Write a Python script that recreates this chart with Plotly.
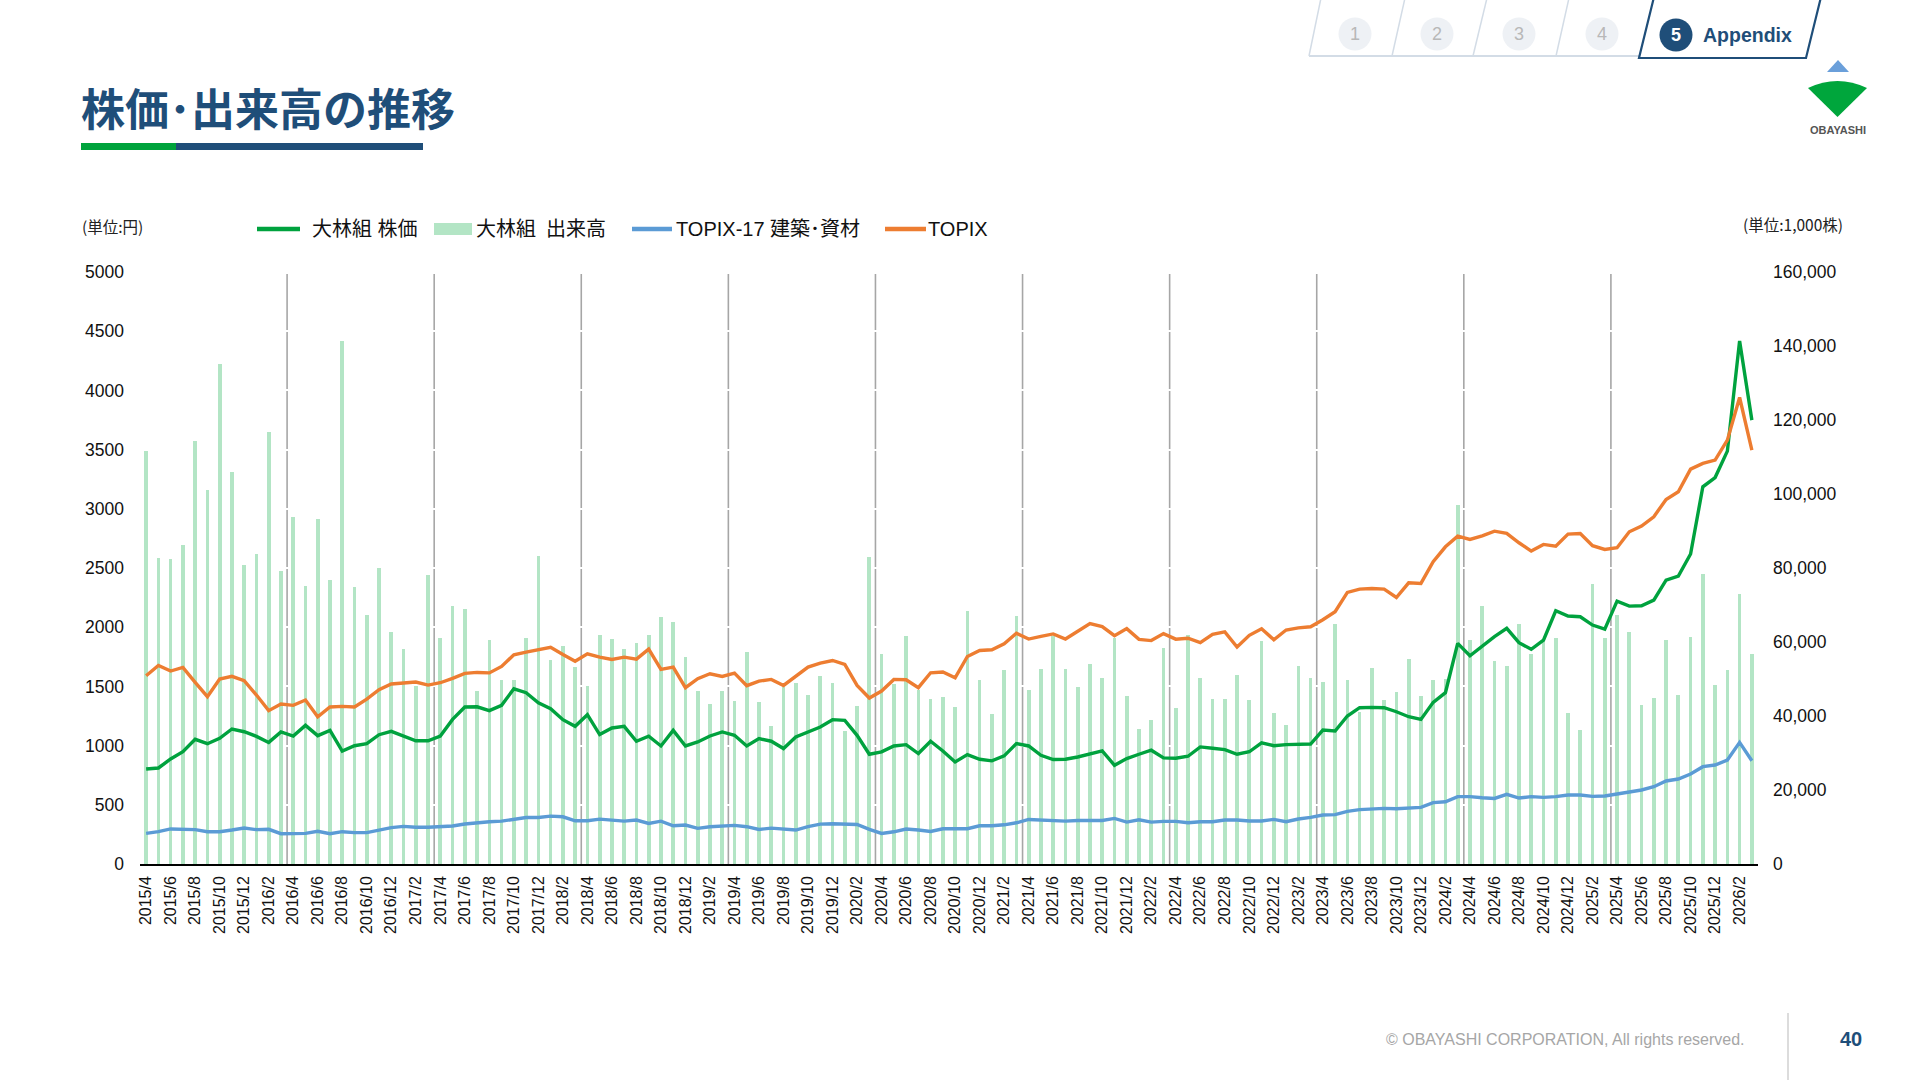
import plotly.graph_objects as go

# ---------------- data ----------------
months = [
    "2015/4", "2015/5", "2015/6", "2015/7", "2015/8", "2015/9", "2015/10", "2015/11", "2015/12",
    "2016/1", "2016/2", "2016/3", "2016/4", "2016/5", "2016/6", "2016/7", "2016/8", "2016/9", "2016/10", "2016/11", "2016/12",
    "2017/1", "2017/2", "2017/3", "2017/4", "2017/5", "2017/6", "2017/7", "2017/8", "2017/9", "2017/10", "2017/11", "2017/12",
    "2018/1", "2018/2", "2018/3", "2018/4", "2018/5", "2018/6", "2018/7", "2018/8", "2018/9", "2018/10", "2018/11", "2018/12",
    "2019/1", "2019/2", "2019/3", "2019/4", "2019/5", "2019/6", "2019/7", "2019/8", "2019/9", "2019/10", "2019/11", "2019/12",
    "2020/1", "2020/2", "2020/3", "2020/4", "2020/5", "2020/6", "2020/7", "2020/8", "2020/9", "2020/10", "2020/11", "2020/12",
    "2021/1", "2021/2", "2021/3", "2021/4", "2021/5", "2021/6", "2021/7", "2021/8", "2021/9", "2021/10", "2021/11", "2021/12",
    "2022/1", "2022/2", "2022/3", "2022/4", "2022/5", "2022/6", "2022/7", "2022/8", "2022/9", "2022/10", "2022/11", "2022/12",
    "2023/1", "2023/2", "2023/3", "2023/4", "2023/5", "2023/6", "2023/7", "2023/8", "2023/9", "2023/10", "2023/11", "2023/12",
    "2024/1", "2024/2", "2024/3", "2024/4", "2024/5", "2024/6", "2024/7", "2024/8", "2024/9", "2024/10", "2024/11", "2024/12",
    "2025/1", "2025/2", "2025/3", "2025/4", "2025/5", "2025/6", "2025/7", "2025/8", "2025/9", "2025/10", "2025/11", "2025/12",
    "2026/1", "2026/2", "2026/3",
]
tick_labels = months[::2]

# 大林組 株価 (円)
obayashi_price = [
    802, 811, 887, 948, 1053, 1016, 1061, 1140, 1117,
    1078, 1027, 1115, 1081, 1171, 1084, 1129, 954, 999, 1016, 1092, 1120,
    1081, 1041, 1041, 1081, 1221, 1326, 1328, 1295, 1340, 1480, 1447, 1362,
    1312, 1219, 1163, 1261, 1093, 1149, 1163, 1037, 1079, 997, 1129, 997,
    1031, 1081, 1115, 1087, 997, 1059, 1037, 975, 1073, 1115, 1157, 1219,
    1213, 1087, 927, 947, 997, 1008, 933, 1037, 955, 862, 924, 885,
    871, 913, 1017, 997, 918, 882, 885, 904, 927, 955, 834, 890,
    927, 961, 896, 893, 910, 989, 978, 966, 927, 948, 1024, 999,
    1008, 1008, 1013, 1131, 1123, 1250, 1320, 1323, 1320, 1286, 1244, 1221,
    1365, 1447, 1863, 1759, 1841, 1920, 1990, 1869, 1813, 1891, 2139, 2094,
    2088, 2018, 1984, 2220, 2178, 2181, 2229, 2398, 2432, 2618, 3186, 3264,
    3487, 4418, 3749,
]

# 大林組 出来高 (1,000株)
obayashi_volume = [
    111600, 82600, 82400, 86300, 114300, 101100, 135200, 105900, 80900,
    83900, 116700, 79300, 93700, 75200, 93200, 76700, 141400, 75000, 67400, 80000, 62700,
    58100, 48000, 78100, 61200, 69700, 68800, 46800, 60500, 49600, 49600, 61000, 83300,
    55200, 58900, 53200, 48000, 62000, 60800, 58100, 59800, 61900, 66800, 65400, 55900,
    46700, 43200, 46700, 44000, 57300, 43800, 37200, 47800, 49000, 45800, 50700, 48900,
    35900, 42600, 83000, 56800, 48700, 61600, 47100, 44700, 45100, 42400, 68400, 49600,
    40500, 52300, 67000, 47100, 52800, 61500, 52800, 47800, 54100, 50300, 61100, 45300,
    36400, 38800, 58300, 42200, 61900, 50300, 44600, 44700, 51200, 44200, 60400, 40700,
    37700, 53600, 50200, 49100, 65000, 49800, 41000, 52900, 44200, 46600, 55400, 45300,
    49800, 50100, 97100, 60600, 69600, 54900, 53500, 64900, 56800, 60500, 61100, 40700,
    36200, 75600, 61100, 67300, 62700, 43000, 45000, 60600, 45800, 61300, 78400, 48400,
    52400, 72900, 56800,
]

# TOPIX-17 建築・資材
topix17_construction = [
    259, 273, 296, 293, 290, 273, 273, 287, 304,
    290, 293, 256, 259, 259, 276, 256, 273, 265, 265, 284, 307,
    318, 310, 310, 312, 321, 338, 349, 357, 362, 376, 393, 393,
    404, 399, 365, 365, 379, 371, 362, 371, 343, 362, 323, 329,
    301, 315, 323, 326, 315, 292, 303, 298, 287, 315, 337, 340,
    340, 334, 292, 258, 272, 295, 287, 275, 298, 301, 298, 323,
    323, 331, 348, 376, 371, 362, 362, 368, 368, 368, 385, 354,
    374, 354, 360, 360, 348, 357, 357, 371, 371, 363, 363, 377,
    357, 380, 394, 414, 417, 445, 459, 467, 470, 467, 473, 478,
    518, 526, 569, 569, 560, 554, 588, 557, 569, 563, 569, 583,
    583, 571, 574, 591, 605, 625, 653, 701, 718, 760, 822, 836,
    878, 1027, 872,
]

# TOPIX
topix = [
    1590, 1677, 1630, 1660, 1534, 1413, 1562, 1585, 1548,
    1427, 1295, 1351, 1340, 1385, 1244, 1326, 1331, 1326, 1393, 1472, 1520,
    1525, 1537, 1511, 1531, 1568, 1610, 1618, 1614, 1669, 1767, 1789, 1812,
    1831, 1770, 1713, 1775, 1747, 1728, 1747, 1730, 1815, 1643, 1663, 1489,
    1565, 1607, 1584, 1612, 1506, 1545, 1559, 1508, 1584, 1663, 1697, 1719,
    1685, 1508, 1402, 1461, 1559, 1556, 1489, 1615, 1621, 1573, 1753, 1803,
    1809, 1860, 1949, 1900, 1923, 1943, 1900, 1964, 2030, 2005, 1929, 1988,
    1897, 1887, 1946, 1899, 1907, 1869, 1940, 1960, 1833, 1931, 1987, 1894,
    1976, 1994, 2004, 2063, 2131, 2294, 2322, 2327, 2322, 2251, 2375, 2370,
    2553, 2679, 2769, 2741, 2772, 2811, 2792, 2713, 2643, 2699, 2685, 2786,
    2792, 2688, 2657, 2671, 2806, 2854, 2933, 3079, 3144, 3335, 3383, 3411,
    3580, 3940, 3496,
]

price_ticks = [0, 500, 1000, 1500, 2000, 2500, 3000, 3500, 4000, 4500, 5000]
volume_ticks = [0, 20000, 40000, 60000, 80000, 100000, 120000, 140000, 160000]
fiscal_year_breaks = [11.5, 23.5, 35.5, 47.5, 59.5, 71.5, 83.5, 95.5, 107.5, 119.5]

# ---------------- style ----------------
GREEN = "#00A23E"
BAR = "#B3E5C5"
BLUE = "#5B9BD5"
ORANGE = "#ED7D31"
NAVY = "#1F4E79"
LATIN = "Liberation Sans, Arial, Noto Sans CJK JP, sans-serif"
CJK = "Noto Sans CJK JP, Liberation Sans, sans-serif"

W, H = 1920, 1080
ML, MR, MT, MB = 140, 162, 272, 216
PW, PH = W - ML - MR, H - MT - MB


def px(x):
    return (x - ML) / PW


def py(y):
    return (H - MB - y) / PH


fig = go.Figure()
fig.add_trace(go.Bar(x=months, y=obayashi_volume, name="大林組　出来高", yaxis="y",
                     marker=dict(color=BAR, line=dict(width=0)), width=0.3))
fig.add_trace(go.Scatter(x=months, y=obayashi_price, name="大林組 株価", yaxis="y2",
                         mode="lines", line=dict(color=GREEN, width=3.4)))
fig.add_trace(go.Scatter(x=months, y=topix17_construction, name="TOPIX-17 建築･資材", yaxis="y2",
                         mode="lines", line=dict(color=BLUE, width=3.4)))
fig.add_trace(go.Scatter(x=months, y=topix, name="TOPIX", yaxis="y2",
                         mode="lines", line=dict(color=ORANGE, width=3.4)))

shapes = []
annotations = []

# fiscal year separators
for xb in fiscal_year_breaks:
    shapes.append(dict(type="line", xref="x", yref="paper", x0=xb, x1=xb, y0=0, y1=py(274),
                       line=dict(color="#A6A6A6", width=1.6), layer="below"))

# title + underline
annotations.append(dict(text="株価･出来高の推移", xref="paper", yref="paper", x=px(79), y=py(107),
                        xanchor="left", yanchor="middle", showarrow=False,
                        font=dict(family=CJK, size=44, color=NAVY, weight=700)))
shapes.append(dict(type="rect", xref="paper", yref="paper", x0=px(81), x1=px(176), y0=py(150), y1=py(143),
                   fillcolor="#00A33C", line=dict(width=0)))
shapes.append(dict(type="rect", xref="paper", yref="paper", x0=px(176), x1=px(423), y0=py(150), y1=py(143),
                   fillcolor=NAVY, line=dict(width=0)))

# unit labels
annotations.append(dict(text="(単位:円)", xref="paper", yref="paper", x=px(80), y=py(226),
                        xanchor="left", yanchor="middle", showarrow=False,
                        font=dict(family=CJK, size=15.5, color="#222")))
annotations.append(dict(text="(単位:1,000株)", xref="paper", yref="paper", x=px(1845), y=py(224),
                        xanchor="right", yanchor="middle", showarrow=False,
                        font=dict(family=CJK, size=15.5, color="#222")))

# legend (drawn manually)
LY = 229
shapes.append(dict(type="line", xref="paper", yref="paper", x0=px(257), x1=px(300), y0=py(LY), y1=py(LY),
                   line=dict(color=GREEN, width=4.5)))
shapes.append(dict(type="rect", xref="paper", yref="paper", x0=px(434), x1=px(472), y0=py(235), y1=py(223),
                   fillcolor=BAR, line=dict(width=0)))
shapes.append(dict(type="line", xref="paper", yref="paper", x0=px(632), x1=px(672), y0=py(LY), y1=py(LY),
                   line=dict(color=BLUE, width=4.5)))
shapes.append(dict(type="line", xref="paper", yref="paper", x0=px(885), x1=px(926), y0=py(LY), y1=py(LY),
                   line=dict(color=ORANGE, width=4.5)))
for txt, x0 in [("大林組 株価", 310), ("大林組\u2002出来高", 474), ("TOPIX-17 建築･資材", 674), ("TOPIX", 926)]:
    annotations.append(dict(text=txt, xref="paper", yref="paper", x=px(x0), y=py(LY),
                            xanchor="left", yanchor="middle", showarrow=False,
                            font=dict(family=LATIN, size=20, color="#111")))

# navigation tabs
TAB_LINE = "#D3DCE6"
tab_edges = [(1321, 1309), (1405, 1392), (1487, 1473), (1569, 1556)]
for top_x, bot_x in tab_edges:
    shapes.append(dict(type="line", xref="paper", yref="paper", x0=px(top_x), x1=px(bot_x), y0=py(-2), y1=py(56),
                       line=dict(color=TAB_LINE, width=1.5)))
shapes.append(dict(type="line", xref="paper", yref="paper", x0=px(1309), x1=px(1640), y0=py(56), y1=py(56),
                   line=dict(color=TAB_LINE, width=2)))
shapes.append(dict(type="path", xref="paper", yref="paper",
                   path=f"M {px(1654)},{py(-3)} L {px(1639)},{py(58)} L {px(1806)},{py(58)} L {px(1821)},{py(-3)}",
                   line=dict(color=NAVY, width=2.2), fillcolor="white"))
for n, cx in zip(["1", "2", "3", "4"], [1355, 1437, 1519, 1602]):
    shapes.append(dict(type="circle", xref="paper", yref="paper", x0=px(cx - 16.5), x1=px(cx + 16.5),
                       y0=py(34 + 16.5), y1=py(34 - 16.5), fillcolor="#EEF1F5", line=dict(width=0)))
    annotations.append(dict(text=n, xref="paper", yref="paper", x=px(cx), y=py(34), xanchor="center",
                            yanchor="middle", showarrow=False, font=dict(family=LATIN, size=18, color="#B8B8B8")))
shapes.append(dict(type="circle", xref="paper", yref="paper", x0=px(1676 - 16.5), x1=px(1676 + 16.5),
                   y0=py(35 + 16.5), y1=py(35 - 16.5), fillcolor=NAVY, line=dict(width=0)))
annotations.append(dict(text="5", xref="paper", yref="paper", x=px(1676), y=py(35), xanchor="center",
                        yanchor="middle", showarrow=False, font=dict(family=LATIN, size=18, color="white", weight=700)))
annotations.append(dict(text="Appendix", xref="paper", yref="paper", x=px(1701), y=py(35), xanchor="left",
                        yanchor="middle", showarrow=False, font=dict(family=LATIN, size=19.5, color=NAVY, weight=700)))

# logo
shapes.append(dict(type="path", xref="paper", yref="paper",
                   path=f"M {px(1827)},{py(72)} L {px(1838)},{py(60)} L {px(1849)},{py(72)} Z",
                   fillcolor="#6A9FDA", line=dict(width=0)))
shapes.append(dict(type="path", xref="paper", yref="paper",
                   path=f"M {px(1808)},{py(88)} Q {px(1837.5)},{py(74)} {px(1867)},{py(88)} L {px(1837.5)},{py(117)} Z",
                   fillcolor="#00A63C", line=dict(width=0)))
annotations.append(dict(text="OBAYASHI", xref="paper", yref="paper", x=px(1837.5), y=py(130), xanchor="center",
                        yanchor="middle", showarrow=False, font=dict(family=LATIN, size=11, color="#555", weight=700)))

# footer
annotations.append(dict(text="© OBAYASHI CORPORATION, All rights reserved.", xref="paper", yref="paper",
                        x=px(1747), y=py(1039), xanchor="right", yanchor="middle", showarrow=False,
                        font=dict(family=LATIN, size=16, color="#A6A6A6")))
shapes.append(dict(type="line", xref="paper", yref="paper", x0=px(1788), x1=px(1788), y0=py(1013), y1=py(1080),
                   line=dict(color="#D0D0D0", width=1.5)))
annotations.append(dict(text="40", xref="paper", yref="paper", x=px(1851), y=py(1039), xanchor="center",
                        yanchor="middle", showarrow=False, font=dict(family=LATIN, size=20, color=NAVY, weight=700)))

fig.update_layout(
    width=W, height=H,
    margin=dict(l=ML, r=MR, t=MT, b=MB, pad=0),
    paper_bgcolor="white", plot_bgcolor="white",
    showlegend=False,
    bargap=0,
    xaxis=dict(type="category", categoryorder="array", categoryarray=months,
               range=[-0.5, len(months) - 0.5], tickmode="array", tickvals=tick_labels, ticktext=tick_labels,
               tickangle=-90, tickfont=dict(family=LATIN, size=16, color="#111"),
               showgrid=False, zeroline=False, showline=True, linecolor="#000", linewidth=1.5,
               ticks="", ticklabelstandoff=4),
    yaxis=dict(side="right", range=[0, 160000], tickmode="array", tickvals=volume_ticks,
               tickformat=",d", tickfont=dict(family=LATIN, size=17.5, color="#111"),
               showgrid=False, zeroline=False, showline=False, ticks="", ticklabelstandoff=14),
    yaxis2=dict(side="left", overlaying="y", range=[0, 5000], tickmode="array", tickvals=price_ticks,
                tickformat="d", tickfont=dict(family=LATIN, size=17.5, color="#111"),
                showgrid=True, gridcolor="white", gridwidth=2, zeroline=False, showline=False,
                ticks="", ticklabelstandoff=15),
    shapes=shapes,
    annotations=annotations,
)

fig.write_html("out.html")
